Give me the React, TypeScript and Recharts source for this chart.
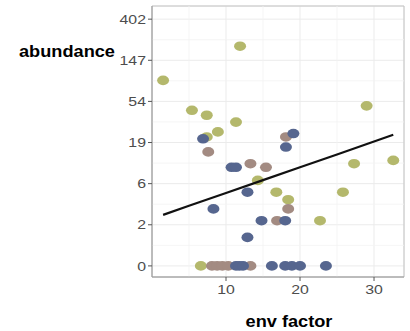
import React from 'react';
import {
  ScatterChart,
  Scatter,
  XAxis,
  YAxis,
  CartesianGrid,
  ReferenceLine,
  ReferenceArea,
} from 'recharts';

// env factor (x) and abundance (raw counts) per group
const greenX = [1.5, 11.9, 5.4, 7.4, 11.35, 8.9, 7.4, 14.3, 29.0, 27.3, 32.6, 16.8, 18.4, 25.8, 22.7, 6.6];
const greenY = [90, 208, 43, 38, 32, 25, 22, 7, 48, 11, 12, 5, 4, 5, 2, 0];

const mauveX = [7.6, 13.3, 15.4, 18.1, 18.4, 16.9, 8.1, 8.8, 9.5, 10.3, 13.3];
const mauveY = [15, 11, 10, 22, 3, 2, 0, 0, 0, 0, 0];

const blueX = [6.9, 10.75, 11.35, 19.1, 18.1, 8.3, 12.9, 14.8, 12.9, 18.0, 11.35, 11.8, 12.3, 16.2, 18.0, 18.9, 20.0, 23.5];
const blueY = [21, 10, 10, 24, 17, 3, 5, 2, 1, 2, 0, 0, 0, 0, 0, 0, 0, 0];

// fitted trend
const fitX = [1.5, 5, 10, 15, 20, 25, 30, 32.6];
const fitY = [2.46, 3.31, 4.89, 7.05, 10.0, 14.0, 19.6, 23.3];

// y axis is log(1 + abundance)
const yTicks = [0, 1, 2, 3, 4, 5, 6];
const yTickLabels = ['0', '2', '6', '19', '54', '147', '402'];
const xTicks = [10, 20, 30];
const xMinor = [5, 15, 25];
const yMinor = [0.5, 1.5, 2.5, 3.5, 4.5, 5.5];

const X_DOMAIN: [number, number] = [0, 34.05];
const Y_DOMAIN: [number, number] = [-0.27, 6.32];

const toPoints = (xs: number[], ys: number[]) =>
  xs.map((x, i) => ({ x, y: Math.log1p(ys[i]) }));

const FONT = '"Liberation Sans", Arial, sans-serif';

const dot = (color: string) => (p: any) => (
  <ellipse cx={p.cx} cy={p.cy} rx={6} ry={4.8} fill={color} />
);

const YTick = (p: any) => {
  const idx = yTicks.indexOf(p.payload.value);
  return (
    <g transform={`translate(${p.x},${p.y}) scale(1.22,1)`}>
      <text x={0} y={0} dy={4.6} textAnchor="end" fontSize={13} fill="#4d4d4d" fontFamily={FONT}>
        {yTickLabels[idx]}
      </text>
    </g>
  );
};

const XTick = (p: any) => (
  <g transform={`translate(${p.x},${p.y}) scale(1.22,1)`}>
    <text x={0} y={0} dy={10.5} textAnchor="middle" fontSize={13} fill="#4d4d4d" fontFamily={FONT}>
      {p.payload.value}
    </text>
  </g>
);

export default function App() {
  return (
    <div style={{ position: 'absolute', left: 0, top: 0, width: 410, height: 331, background: '#fff' }}>
      <ScatterChart width={410} height={331} margin={{ top: 6, right: 6, bottom: 24, left: 0 }}>
        <CartesianGrid stroke="#ebebeb" strokeWidth={1} />
        {xMinor.map((v) => (
          <ReferenceLine key={'xm' + v} x={v} stroke="#f2f2f2" strokeWidth={0.8} />
        ))}
        {yMinor.map((v) => (
          <ReferenceLine key={'ym' + v} y={v} stroke="#f2f2f2" strokeWidth={0.8} />
        ))}
        <ReferenceArea
          x1={X_DOMAIN[0]}
          x2={X_DOMAIN[1]}
          y1={Y_DOMAIN[0]}
          y2={Y_DOMAIN[1]}
          fill="none"
          stroke="#c4c4c4"
          strokeWidth={1}
          fillOpacity={0}
          ifOverflow="visible"
        />
        <XAxis
          type="number"
          dataKey="x"
          domain={X_DOMAIN}
          ticks={xTicks}
          allowDataOverflow
          height={30}
          stroke="#9a9a9a"
          tickSize={4}
          tickLine={{ stroke: '#555' }}
          tick={<XTick />}
          label={{
            content: () => (
              <g transform="translate(289,327) scale(1.07,1)">
                <text x={0} y={0} textAnchor="middle" fontSize={17} fontWeight="bold" fill="#000" fontFamily={FONT}>
                  env factor
                </text>
              </g>
            ),
          }}
        />
        <YAxis
          type="number"
          dataKey="y"
          domain={Y_DOMAIN}
          ticks={yTicks}
          allowDataOverflow
          width={152}
          stroke="#9a9a9a"
          tickSize={4}
          tickMargin={2}
          tickLine={{ stroke: '#555' }}
          tick={<YTick />}
          label={{
            content: () => (
              <g transform="translate(19,57) scale(1.07,1)">
                <text x={0} y={0} textAnchor="start" fontSize={17} fontWeight="bold" fill="#000" fontFamily={FONT}>
                  abundance
                </text>
              </g>
            ),
          }}
        />
        <Scatter data={toPoints(greenX, greenY)} shape={dot('#b4b86c')} isAnimationActive={false} />
        <Scatter data={toPoints(mauveX, mauveY)} shape={dot('#a38b82')} isAnimationActive={false} />
        <Scatter data={toPoints(blueX, blueY)} shape={dot('#56668f')} isAnimationActive={false} />
        <Scatter
          data={toPoints(fitX, fitY)}
          line={{ stroke: '#111', strokeWidth: 2.2 }}
          lineType="joint"
          shape={() => <g />}
          isAnimationActive={false}
        />
      </ScatterChart>
    </div>
  );
}
